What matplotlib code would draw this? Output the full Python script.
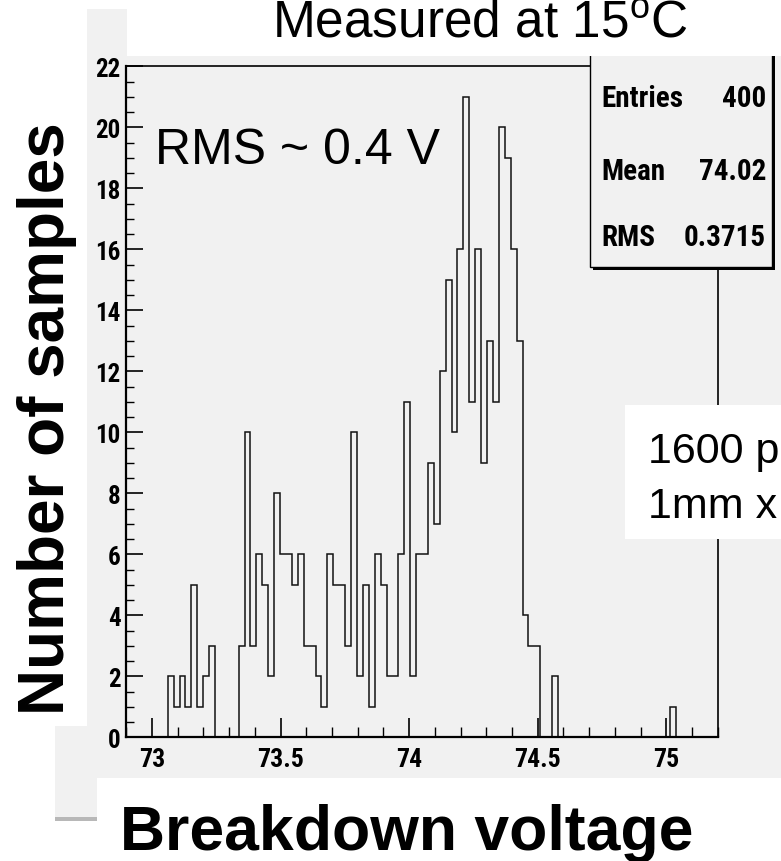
import numpy as np
import matplotlib
matplotlib.use("Agg")
import matplotlib.pyplot as plt
from matplotlib.patches import Rectangle
from matplotlib.ticker import MultipleLocator
from matplotlib import font_manager

plt.rcParams['font.family'] = ['Liberation Sans', 'DejaVu Sans']
plt.rcParams['mathtext.fontset'] = 'custom'
plt.rcParams['mathtext.rm'] = 'Liberation Sans'

# histogram: 100 bins from 72.9 V to 75.2 V
bin_lo = 72.9
bin_hi = 75.2
counts = [0, 0, 0, 0, 0, 0, 0, 2, 1, 2,
          1, 5, 1, 2, 3, 0, 0, 0, 0, 3,
          10, 3, 6, 5, 2, 8, 6, 6, 5, 6,
          3, 3, 2, 1, 6, 5, 5, 3, 10, 2,
          5, 1, 6, 5, 2, 2, 6, 11, 2, 6,
          6, 9, 7, 12, 15, 10, 16, 21, 11, 16,
          9, 13, 11, 20, 19, 16, 13, 4, 3, 3,
          0, 0, 2, 0, 0, 0, 0, 0, 0, 0,
          0, 0, 0, 0, 0, 0, 0, 0, 0, 0,
          0, 0, 1, 0, 0, 0, 0, 0, 0, 0]
stat_names = ["Entries", "Mean", "RMS"]
stat_values = ["400", "74.02", "0.3715"]
x_ticks = [73, 73.5, 74, 74.5, 75]
y_ticks = list(range(0, 23, 2))

W, H = 781, 862
GREY = '#f1f1f1'

# pick a condensed face for the axis numbers if one is installed
installed = {f.name for f in font_manager.fontManager.ttflist}
narrow = [f for f in ['Liberation Sans Narrow', 'Roboto Condensed', 'Open Sans Condensed',
                      'DejaVu Sans Condensed', 'Noto Sans Condensed'] if f in installed]
NARROW = narrow[:1] + ['Liberation Sans', 'DejaVu Sans']


def fx(x):
    return x / W


def fy(y):
    return 1 - y / H


def box(x0, y0, x1, y1, **kw):
    r = Rectangle((fx(x0), fy(y1)), (x1 - x0) / W, (y1 - y0) / H,
                  transform=fig.transFigure, **kw)
    fig.add_artist(r)
    return r


fig = plt.figure(figsize=(W / 100, H / 100), dpi=100, facecolor='white')

# canvas background and its shadow
box(55, 818, 781, 822, facecolor='#b8b8b8', edgecolor='none', zorder=-2)
box(55, 10, 781, 818, facecolor=GREY, edgecolor='none', zorder=-1)

ax = fig.add_axes([fx(126.3), fy(738.3), (717.7 - 126.3) / W, (738.3 - 67.3) / H])
ax.patch.set_visible(False)
edges = np.linspace(bin_lo, bin_hi, len(counts) + 1)
ax.stairs(counts, edges, baseline=0, color='#111111', lw=1.1)
ax.set_xlim(bin_lo, bin_hi)
ax.set_ylim(0, 22)

ax.set_xticks(x_ticks)
ax.set_xticklabels([f"{t:g}" for t in x_ticks])
ax.xaxis.set_minor_locator(MultipleLocator(0.1))
ax.set_yticks(y_ticks)
ax.yaxis.set_minor_locator(MultipleLocator(0.5))
ax.tick_params(axis='x', which='major', direction='in', length=14, width=1.2, pad=7)
ax.tick_params(axis='x', which='minor', direction='in', length=7, width=1.0)
ax.tick_params(axis='y', which='major', direction='in', length=12, width=1.2, pad=4)
ax.tick_params(axis='y', which='minor', direction='in', length=6, width=1.0)
for lab in ax.get_xticklabels():
    lab.set_fontfamily(NARROW)
    lab.set_fontweight('bold')
    lab.set_fontsize(18.5)
for lab in ax.get_yticklabels():
    lab.set_fontfamily(NARROW)
    lab.set_fontweight('bold')
    lab.set_fontsize(18)
for side in ['left', 'bottom']:
    ax.spines[side].set_linewidth(1.6)
for side in ['top', 'right']:
    ax.spines[side].set_linewidth(1.2)

# statistics box
box(593, 40, 774.5, 270.5, facecolor='black', edgecolor='none', zorder=1.4)
box(590, 40, 772, 268, facecolor=GREY, edgecolor='black', lw=1.0, zorder=1.5)
for i, (name, val) in enumerate(zip(stat_names, stat_values)):
    yb = [107, 180, 246][i]
    fig.text(fx(601), fy(yb), name, ha='left', va='baseline', fontsize=21,
             fontweight='bold', family=NARROW, zorder=1.6)
    fig.text(fx(766), fy(yb), val, ha='right', va='baseline', fontsize=21,
             fontweight='bold', family=NARROW, zorder=1.6)

# white text panels over the canvas
box(0, 0, 87, 727, facecolor='white', edgecolor='none', zorder=2)
box(0, 0, 781, 10, facecolor='white', edgecolor='none', zorder=2)
box(127, 0, 781, 57, facecolor='white', edgecolor='none', zorder=2)
box(97, 779, 781, 862, facecolor='white', edgecolor='none', zorder=2)
box(625, 406, 781, 540, facecolor='white', edgecolor='none', zorder=2)

fig.text(fx(272), fy(38), r'Measured at 15$^{\rm o}$C', ha='left', va='baseline',
         fontsize=37, zorder=3)
fig.text(fx(155), fy(164), 'RMS ~ 0.4 V', ha='left', va='baseline',
         fontsize=36, zorder=3)
fig.text(fx(648), fy(463), '1600 pixels', ha='left', va='baseline',
         fontsize=31, zorder=3)
fig.text(fx(648), fy(518), '1mm x 1mm', ha='left', va='baseline',
         fontsize=31, zorder=3)
fig.text(fx(47), fy(419), 'Number of samples', rotation=90, ha='center',
         va='center', fontsize=46, fontweight='bold', zorder=3)
fig.text(fx(120), fy(850), 'Breakdown voltage', ha='left', va='baseline',
         fontsize=45, fontweight='bold', zorder=3)

fig.savefig('out.png', dpi=100)
